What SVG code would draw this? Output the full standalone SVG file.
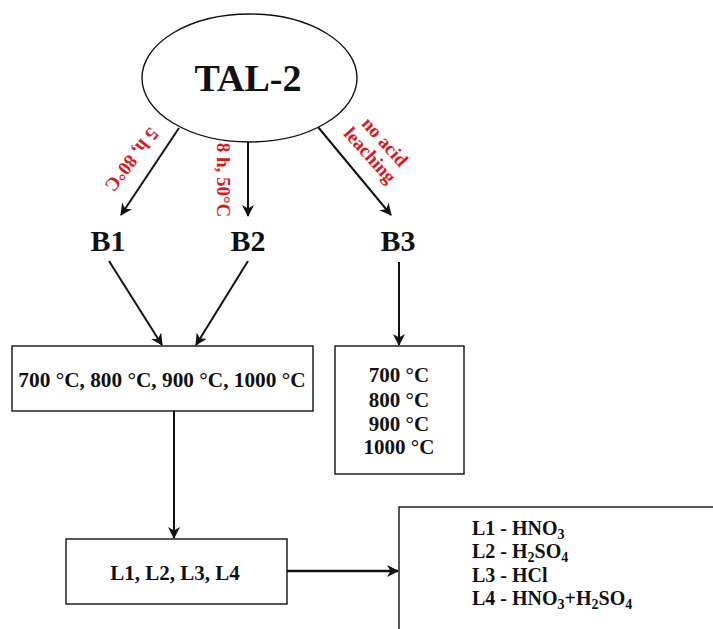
<svg xmlns="http://www.w3.org/2000/svg" width="713" height="629" viewBox="0 0 713 629">
<style>
.t{font-family:"Liberation Serif","Times New Roman",serif;font-weight:bold;fill:#111}
.r{font-family:"Liberation Serif","Times New Roman",serif;font-weight:bold;fill:#e0141c;font-size:19px}
.box{fill:#fff;stroke:#111;stroke-width:1.4}
.c{stroke:#111;stroke-width:2;fill:none;marker-end:url(#ah)}
.s{font-size:14px}
</style>
<defs>
<marker id="ah" markerUnits="userSpaceOnUse" viewBox="0 0 12 12" markerWidth="12" markerHeight="12" refX="11" refY="6" orient="auto">
<path d="M0,0 L12,6 L0,12 L3.5,6 z" fill="#111"/>
</marker>
</defs>
<rect width="713" height="629" fill="#fff"/>

<g id="connectors">
<line class="c" x1="179" y1="128" x2="121" y2="215"/>
<line class="c" x1="248" y1="142" x2="248" y2="216"/>
<line class="c" x1="318" y1="127" x2="391" y2="215"/>
<line class="c" x1="109" y1="261" x2="162" y2="345"/>
<line class="c" x1="248" y1="261" x2="196" y2="345"/>
<line class="c" x1="399" y1="262" x2="399" y2="345"/>
<line class="c" x1="174" y1="411" x2="174" y2="538"/>
<line class="c" x1="287" y1="571" x2="398" y2="571" style="stroke-width:2.6"/>
</g>

<g id="labels">
<text class="r" transform="translate(132,160) rotate(128)" text-anchor="middle" dy="0.35em">5 h, 80°C</text>
<text class="r" transform="translate(224,180) rotate(90)" text-anchor="middle" dy="0.35em">8 h, 50°C</text>
<text class="r" transform="translate(378,148) rotate(48)" text-anchor="middle"><tspan x="0" dy="-3">no acid</tspan><tspan x="0" dy="20">leaching</tspan></text>
</g>

<g id="tal2">
<ellipse cx="249.5" cy="78" rx="107.5" ry="64" fill="#fff" stroke="#111" stroke-width="1.4"/>
<text class="t" x="248" y="91" font-size="38" text-anchor="middle">TAL-2</text>
</g>

<g id="b1"><text class="t" x="108" y="251" font-size="30" text-anchor="middle">B1</text></g>
<g id="b2"><text class="t" x="248" y="251" font-size="30" text-anchor="middle">B2</text></g>
<g id="b3"><text class="t" x="398" y="251" font-size="30" text-anchor="middle">B3</text></g>

<g id="temps1">
<rect class="box" x="12" y="346" width="301" height="65"/>
<text class="t" x="162" y="387" font-size="21.3" text-anchor="middle">700 °C, 800 °C, 900 °C, 1000 °C</text>
</g>

<g id="temps2">
<rect class="box" x="335" y="346" width="129" height="128"/>
<text class="t" x="399" y="382" font-size="21" text-anchor="middle">700 °C</text>
<text class="t" x="399" y="407" font-size="21" text-anchor="middle">800 °C</text>
<text class="t" x="399" y="431" font-size="21" text-anchor="middle">900 °C</text>
<text class="t" x="399" y="454" font-size="21" text-anchor="middle">1000 °C</text>
</g>

<g id="leach">
<rect class="box" x="66" y="539" width="221" height="65"/>
<text class="t" x="175" y="580" font-size="21" text-anchor="middle">L1, L2, L3, L4</text>
</g>

<g id="legend">
<rect class="box" x="399" y="507" width="330" height="140"/>
<text class="t" x="472" y="535" font-size="20">L1 - HNO<tspan class="s" dy="4">3</tspan></text>
<text class="t" x="472" y="558" font-size="20">L2 - H<tspan class="s" dy="4">2</tspan><tspan dy="-4">SO</tspan><tspan class="s" dy="4">4</tspan></text>
<text class="t" x="472" y="582" font-size="20">L3 - HCl</text>
<text class="t" x="472" y="605" font-size="20">L4 - HNO<tspan class="s" dy="4">3</tspan><tspan dy="-4">+H</tspan><tspan class="s" dy="4">2</tspan><tspan dy="-4">SO</tspan><tspan class="s" dy="4">4</tspan></text>
</g>
</svg>
